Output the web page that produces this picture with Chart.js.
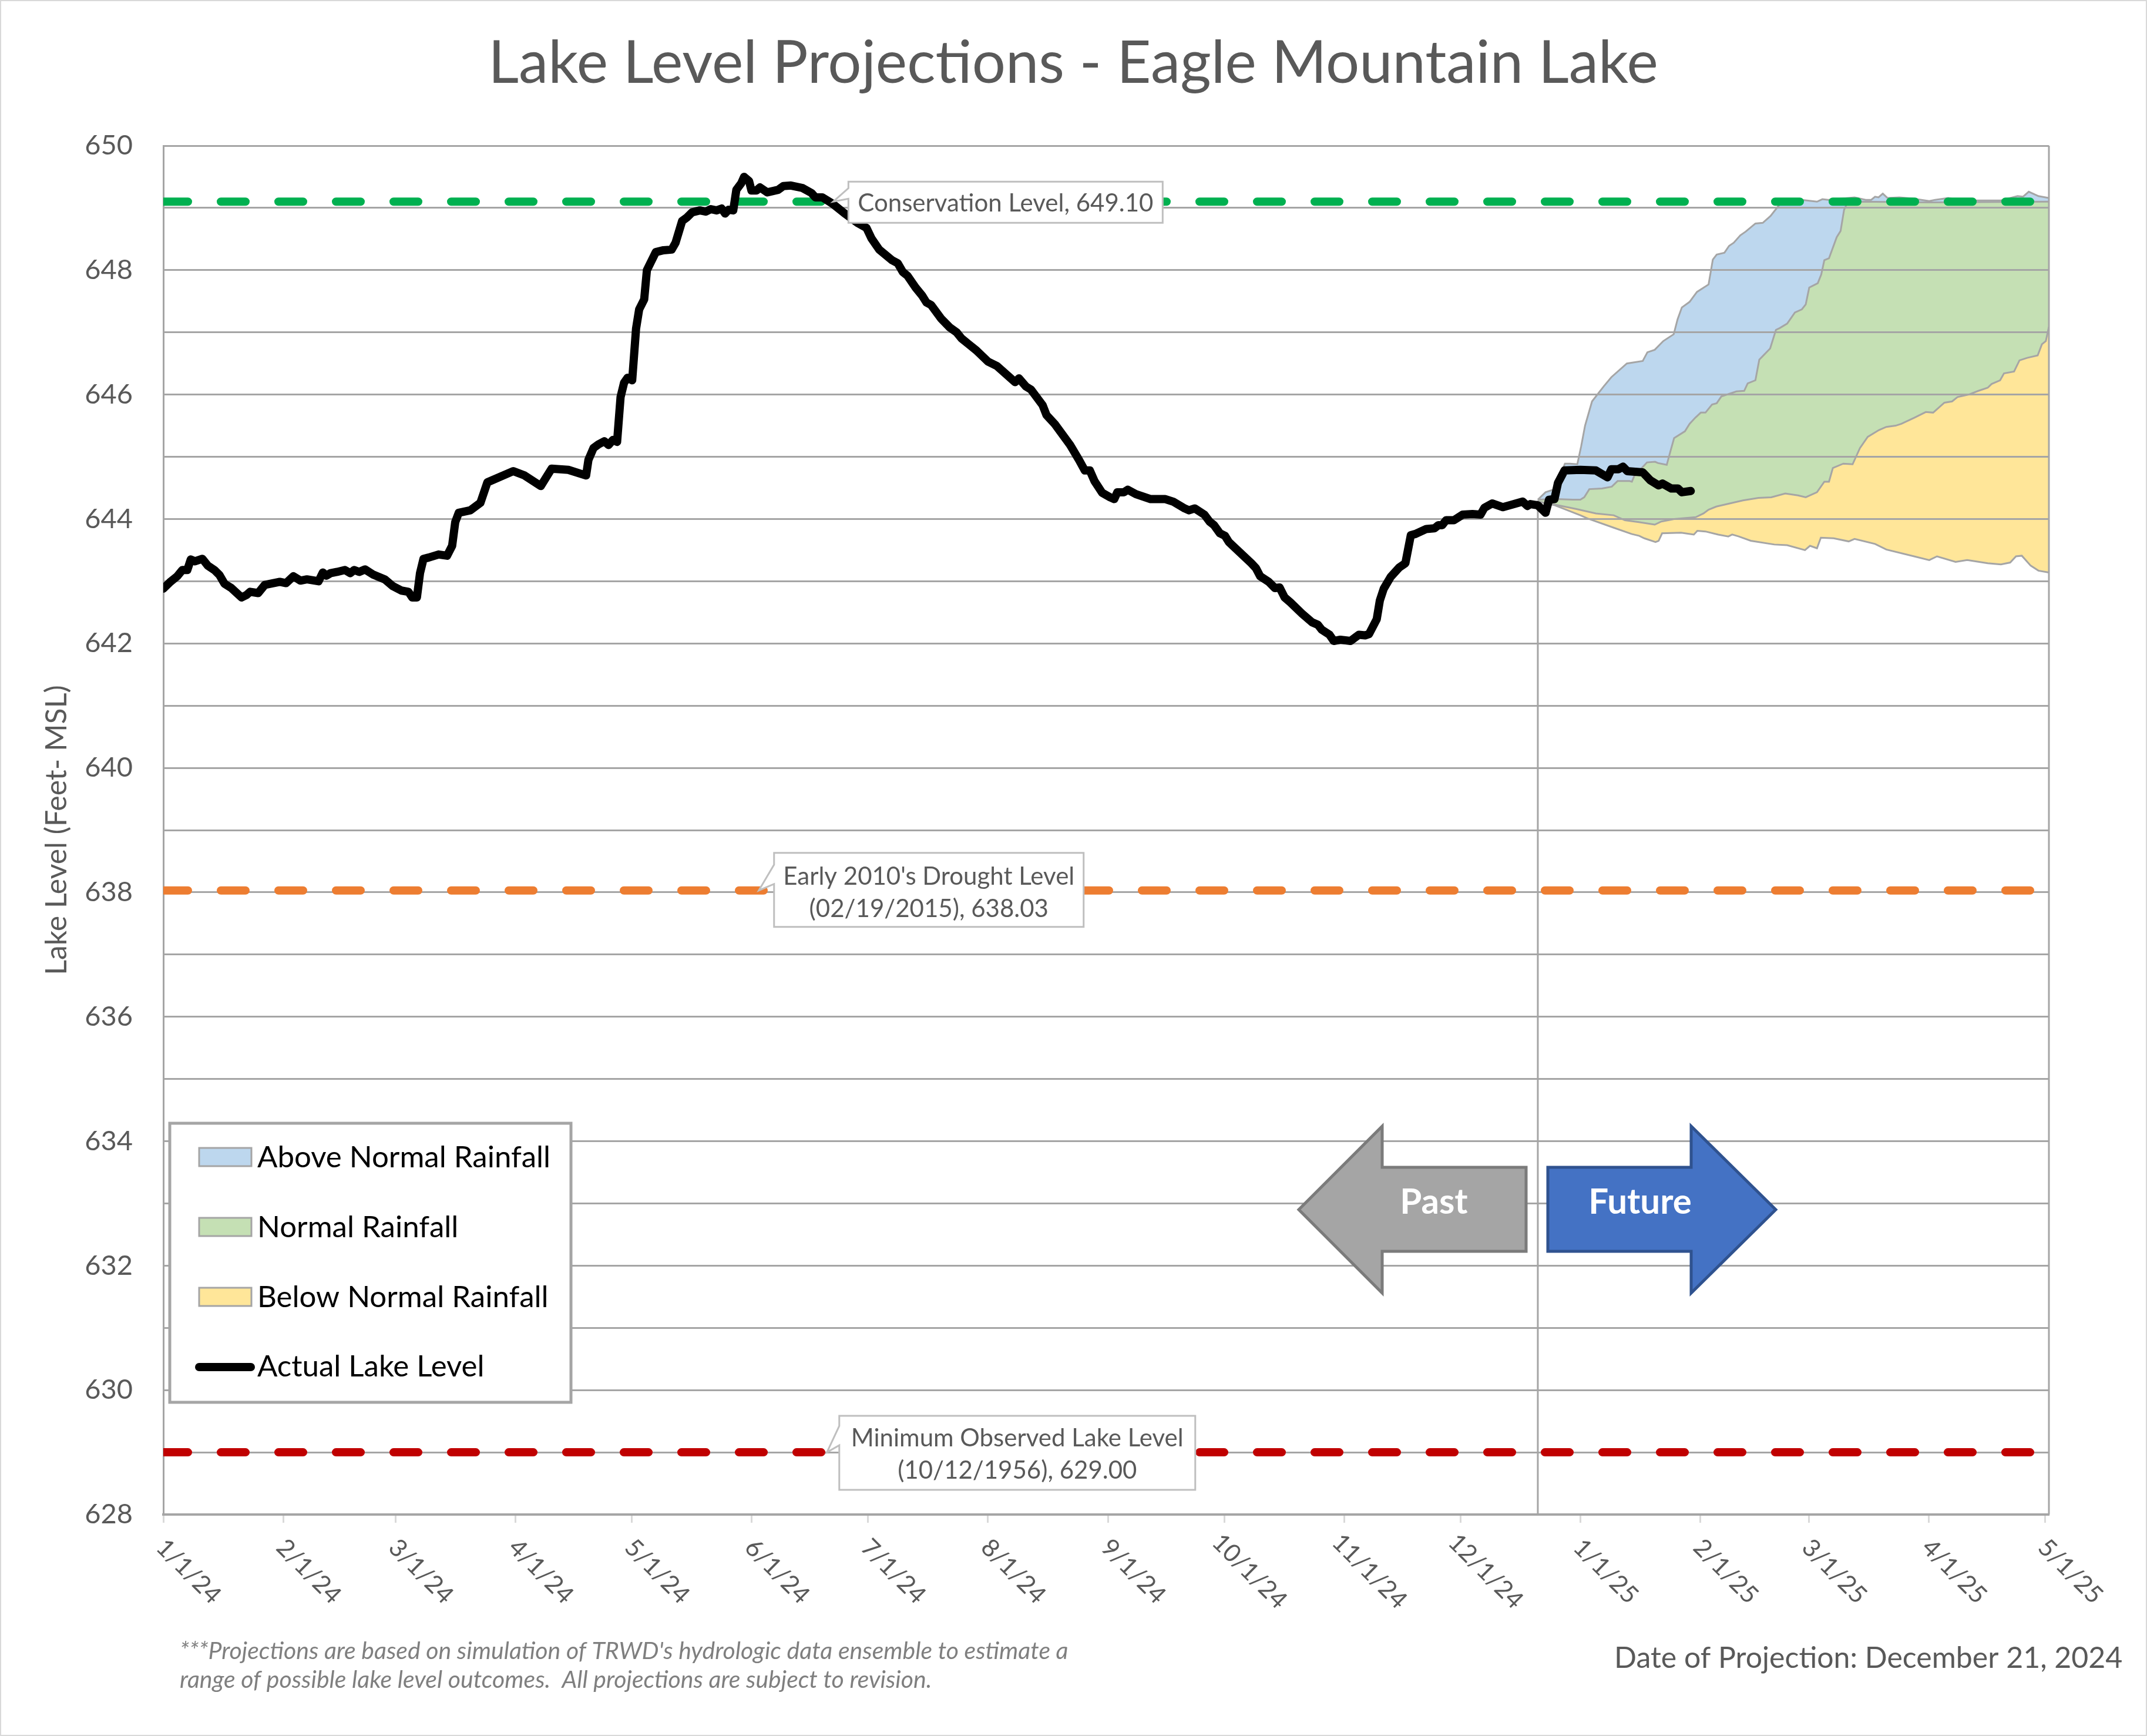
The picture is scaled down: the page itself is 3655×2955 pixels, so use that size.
<!DOCTYPE html>
<html>
<head>
<meta charset="utf-8">
<title>Lake Level Projections - Eagle Mountain Lake</title>
<script src="https://cdn.jsdelivr.net/npm/chart.js@4"></script>
<style>
  html, body { margin: 0; padding: 0; background: #fff; }
  #frame { position: relative; width: 3655px; height: 2955px; }
  #frame::after { content: ''; position: absolute; inset: 0; border: 2px solid #d9d9d9; box-sizing: border-box; pointer-events: none; }
  canvas { display: block; }
</style>
</head>
<body>
<div id="frame"><canvas id="lakeChart" width="3655" height="2955"></canvas></div>
<script>
// x values are days since 1/1/24
const monthDays = [0, 31, 60, 91, 121, 152, 182, 213, 244, 274, 305, 335, 366, 397, 425, 456, 486];
const monthLabels = ['1/1/24', '2/1/24', '3/1/24', '4/1/24', '5/1/24', '6/1/24', '7/1/24', '8/1/24', '9/1/24', '10/1/24', '11/1/24', '12/1/24', '1/1/25', '2/1/25', '3/1/25', '4/1/25', '5/1/25'];
const levelTickLabels = [628, 630, 632, 634, 636, 638, 640, 642, 644, 646, 648, 650];

const actualDays = [0, 1.8, 3.6, 4.9, 6.2, 7.1, 8.2, 10.1, 11.5, 13.2, 14.5, 15.8, 17.6, 20.2, 21.5, 22.4, 24.5, 26.2, 30.1, 31.7, 33.6, 35.4, 37.1, 40.1, 41.2, 42.1, 43.2, 44.9, 46.9, 48.3, 49.3, 50.6, 52.1, 54.1, 57.2, 59.3, 61.5, 63.3, 64.3, 65.5, 66.3, 67.2, 68.5, 71.1, 73.3, 74.6, 75.4, 76.3, 79.3, 81.9,
  83.7, 90.4, 93.3, 97.5, 100.3, 104.6, 109.2,
  109.8, 111.1, 112.4, 113.9, 115, 116.1, 117.2, 118.1, 119, 119.9, 121.1, 122.1, 122.9, 124.2, 124.9, 127.2, 129.2, 131.3, 132.3, 134, 135.3, 136.6, 138.6, 140.1, 141.4, 142.9, 144.2, 145.1, 146, 147.2, 148, 149.3, 150, 151.3, 151.9, 153.2, 154.1, 156, 158.8, 160.1, 162.1, 165.1, 167.4, 168.4, 170.2, 172.8,
  175.8, 179.3, 181.6, 182.9, 184.9, 188.2, 189.7, 191, 192.2, 194.3, 196, 197.1, 198.3, 200.9, 203.1, 204.9, 206.2, 208, 210, 213, 215.3, 220, 221, 222.8, 224.1, 227.1, 228.1, 230.2, 232.2, 234.2, 236.5, 238, 239.3, 240.5,
  242.5, 244.5, 245.6, 246.4, 248.1, 249.1, 251.2, 255, 258.8, 260.8, 263.8, 264.9, 266.4, 268.9, 270.2, 271.4, 272.9, 274.2, 275.2, 276.4, 281, 282.2, 283.3, 285.5, 287.1, 288.3, 289.6, 291.1, 294.1, 296.7, 298.2, 299.2, 301.2, 302.3, 304, 306.6, 308.8, 310.4, 311.4, 313.4, 314.2, 315.2, 317, 319.2, 320.8,
  322.2, 323.4, 326.2, 328.3, 329.3, 330.3, 331.3, 333.3, 335.6, 338.1, 340.2, 341.2, 343.2, 346, 348.3, 351.1, 352.3, 353.1, 355,
  357, 357.9, 359.3, 360.2, 361.9, 366, 370, 373, 374, 375.8, 377, 378.1, 382.1, 384.1, 386.2, 387.2, 389.5, 391.2, 392.2, 394.5];
const actualLevels = [642.88, 642.99, 643.08, 643.18, 643.18, 643.35, 643.32, 643.36, 643.25, 643.18, 643.10, 642.96, 642.89, 642.74, 642.78, 642.83, 642.81, 642.94, 642.99, 642.97, 643.08, 643.01, 643.03, 643.0, 643.14, 643.09, 643.13, 643.15, 643.18, 643.13, 643.18, 643.15, 643.19, 643.11, 643.03, 642.92, 642.85, 642.83, 642.74, 642.74, 643.13, 643.36, 643.38, 643.43, 643.41, 643.57, 643.95, 644.10, 644.14, 644.26,
  644.59, 644.77, 644.70, 644.53, 644.81, 644.79, 644.70,
  644.95, 645.14, 645.2, 645.25, 645.19, 645.27, 645.24, 645.96, 646.19, 646.27, 646.23, 647.06, 647.37, 647.53, 648.0, 648.29, 648.32, 648.33, 648.44, 648.79, 648.85, 648.93, 648.96, 648.94, 648.98, 648.96, 648.99, 648.91, 648.97, 648.96, 649.29, 649.40, 649.50, 649.43, 649.28, 649.28, 649.33, 649.25, 649.29, 649.35, 649.36, 649.32, 649.24, 649.17, 649.17, 649.07,
  648.92, 648.76, 648.68, 648.51, 648.33, 648.16, 648.11, 647.97, 647.91, 647.72, 647.59, 647.48, 647.44, 647.22, 647.08, 647.0, 646.9, 646.81, 646.71, 646.53, 646.46, 646.2, 646.26, 646.13, 646.08, 645.83, 645.67, 645.53, 645.36, 645.19, 644.95, 644.78, 644.78, 644.61,
  644.42, 644.35, 644.32, 644.43, 644.43, 644.47, 644.40, 644.32, 644.32, 644.28, 644.17, 644.14, 644.17, 644.07, 643.96, 643.90, 643.77, 643.73, 643.63, 643.56, 643.29, 643.21, 643.08, 642.99, 642.89, 642.90, 642.74, 642.66, 642.48, 642.34, 642.30, 642.22, 642.14, 642.04, 642.06, 642.04, 642.14, 642.13, 642.15, 642.39, 642.69, 642.88, 643.07, 643.22, 643.29,
  643.74, 643.76, 643.84, 643.85, 643.90, 643.90, 643.98, 643.98, 644.07, 644.08, 644.07, 644.18, 644.25, 644.19, 644.23, 644.28, 644.21, 644.24, 644.22,
  644.10, 644.31, 644.32, 644.58, 644.78, 644.79, 644.78, 644.67, 644.80, 644.80, 644.84, 644.77, 644.75, 644.62, 644.54, 644.57, 644.49, 644.49, 644.43, 644.45];

const aboveDays = [355, 357, 359.4, 362, 363.3, 365.2, 366.2, 367.2, 369, 372, 374, 378, 382.1, 383.3, 385.2, 387.4, 390.1, 391.1, 392.2, 394.2, 396.1, 399.1, 400.2, 401.2, 403.2, 404.4, 405.6, 407.3, 408.7, 411.2, 413.1, 415.1, 417, 418.4, 423.2, 427.1, 428.5, 430, 436.8, 439.7, 441.1, 442.1, 443, 444.1, 445.3, 448.4, 451.8, 456.1, 457.6, 461, 463.9, 474.6, 478.9, 480.3, 481.8, 484.3, 487];
const aboveLevels = [644.31, 644.43, 644.48, 644.89, 644.89, 644.88, 645.17, 645.5, 645.89, 646.13, 646.28, 646.5, 646.54, 646.68, 646.72, 646.86, 646.97, 647.21, 647.40, 647.49, 647.65, 647.77, 648.17, 648.25, 648.28, 648.39, 648.44, 648.56, 648.62, 648.75, 648.76, 648.87, 649.02, 649.13, 649.13, 649.10, 649.14, 649.13, 649.17, 649.13, 649.13, 649.18, 649.17, 649.23, 649.16, 649.17, 649.15, 649.11, 649.13, 649.16, 649.12, 649.12, 649.19, 649.18, 649.26, 649.19, 649.16];

const normalDays = [355, 359.9, 364, 366, 367, 368.3, 371.6, 374.1, 375.6, 378.7, 379.3, 379.9, 383.2, 385.3, 386, 388.3, 389.3, 390.2, 393, 394.2, 395.7, 397.1, 398.3, 400, 401.2, 402.4, 406.3, 408.3, 409.2, 411.2, 412.2, 415, 416.5, 417.5, 419.4, 421.4, 423.2, 424.2, 425.1, 427.3, 428.2, 429, 430.2, 432.2, 433.2, 434.1, 435, 438.7, 456.1, 487];
const normalLevels = [644.31, 644.32, 644.31, 644.31, 644.35, 644.48, 644.49, 644.52, 644.61, 644.61, 644.60, 644.69, 644.91, 644.92, 644.90, 644.87, 645.10, 645.30, 645.41, 645.53, 645.63, 645.71, 645.71, 645.84, 645.86, 645.97, 646.05, 646.06, 646.18, 646.23, 646.56, 646.74, 647.04, 647.07, 647.14, 647.32, 647.37, 647.45, 647.72, 647.79, 647.93, 648.16, 648.19, 648.53, 648.63, 648.97, 649.09, 649.10, 649.09, 649.10];

const belowDays = [355, 359.4, 365, 370, 374.6, 377.5, 381.1, 385.2, 386.9, 390.2, 395.8, 397.8, 399.1, 401.1, 408, 412, 415.3, 418.9, 422.2, 424.2, 427.1, 429, 430.2, 431.2, 433.9, 436.3, 438.2, 440.2, 443.1, 445, 447.4, 448.9, 452.3, 455.2, 457.1, 460, 462, 463.4, 466.3, 468.8, 471.2, 472.2, 474.4, 475.4, 478, 479.4, 481.4, 484.1, 485.2, 486.2, 487];
const belowLevels = [644.28, 644.23, 644.16, 644.09, 644.06, 643.98, 643.95, 643.91, 643.96, 644.0, 644.03, 644.09, 644.15, 644.20, 644.30, 644.34, 644.35, 644.41, 644.38, 644.35, 644.43, 644.60, 644.60, 644.82, 644.89, 644.88, 645.14, 645.32, 645.43, 645.48, 645.50, 645.53, 645.63, 645.72, 645.71, 645.87, 645.89, 645.96, 646.0, 646.06, 646.11, 646.17, 646.23, 646.34, 646.37, 646.55, 646.59, 646.63, 646.81, 646.86, 647.09];

const floorDays = [355, 359.4, 366, 367.8, 374.6, 379.2, 381.2, 382.5, 385.4, 386.2, 387.1, 392, 395.3, 396.2, 398.3, 401.6, 404.2, 405.2, 406.9, 410, 416.1, 419.4, 424, 425.3, 427.1, 428.1, 431.4, 435.3, 436.8, 442.1, 445, 452.8, 456.1, 458.1, 462.9, 465.9, 471.2, 474.6, 477, 478.5, 480, 482.3, 484.3, 487];
const floorLevels = [644.28, 644.22, 644.06, 644.01, 643.86, 643.76, 643.73, 643.69, 643.63, 643.65, 643.77, 643.78, 643.75, 643.81, 643.80, 643.75, 643.72, 643.75, 643.72, 643.65, 643.59, 643.58, 643.50, 643.57, 643.53, 643.70, 643.69, 643.64, 643.68, 643.60, 643.51, 643.39, 643.34, 643.40, 643.31, 643.34, 643.29, 643.27, 643.30, 643.40, 643.41, 643.25, 643.17, 643.14];

// reference levels and the "today" divider
const fullSpanDays = [0, 487];
const conservationLevels = [649.1, 649.1];
const droughtLevels = [638.03, 638.03];
const minimumLevels = [629, 629];
const dividerDays = [355, 355];
const dividerLevels = [628, 644.3];

const legendLabels = ['Above Normal Rainfall', 'Normal Rainfall', 'Below Normal Rainfall', 'Actual Lake Level'];

const colors = {
    grid: '#a5a5a5',
    text: '#595959',
    above: '#bdd7ee',
    normal: '#c5e0b4',
    below: '#ffe699',
    conservation: '#00b050',
    drought: '#ed7d31',
    minimum: '#c00000',
    callout: '#bfbfbf'
};
const fontFamily = "Lato, 'Noto Sans', sans-serif";

function toPoints(days, levels) {
    return days.map((d, i) => ({ x: d, y: levels[i] }));
}

function bandLine(label, days, levels, fillColor) {
    return {
        label: label,
        data: toPoints(days, levels),
        borderColor: colors.grid,
        borderWidth: 3,
        backgroundColor: fillColor,
        fill: fillColor ? '+1' : false,
        pointRadius: 0,
        tension: 0,
        clip: 0
    };
}

function levelLine(label, levels, color) {
    return {
        label: label,
        data: toPoints(fullSpanDays, levels),
        borderColor: color,
        borderWidth: 14,
        borderDash: [42, 56],
        borderCapStyle: 'round',
        pointRadius: 0,
        fill: false,
        clip: 0
    };
}

// Callouts hang off a point on the chart, box offsets are pixels from that point
const callouts = [
    { lines: ['Conservation Level, 649.10'], day: 173, level: 649.1, dx: 26, dy: -34, w: 535, h: 70, baseTop: -23, baseBottom: -5, lineY: [3] },
    { lines: ["Early 2010's Drought Level", '(02/19/2015), 638.03'], day: 153.8, level: 638.03, dx: 26, dy: -64, w: 527, h: 126, baseTop: -44, baseBottom: -11, lineY: [-23, 32] },
    { lines: ['Minimum Observed Lake Level', '(10/12/1956), 629.00'], day: 171.4, level: 629, dx: 21, dy: -62, w: 606, h: 126, baseTop: -45, baseBottom: -12, lineY: [-24, 31] }
];

function drawText(ctx, text, x, y, font, color, align) {
    ctx.font = font;
    ctx.fillStyle = color;
    ctx.textAlign = align || 'left';
    ctx.textBaseline = 'middle';
    ctx.fillText(text, x, y);
}

// Excel draws the x labels sloping downwards, scale ticks only slope the other way
const monthLabelPlugin = {
    id: 'monthLabels',
    afterDraw(chart) {
        const ctx = chart.ctx;
        const xScale = chart.scales.x;
        monthDays.forEach((day, i) => {
            ctx.save();
            ctx.translate(xScale.getPixelForValue(day) + 43, 2675);
            ctx.rotate(Math.PI / 4);
            drawText(ctx, monthLabels[i], 0, 0, '42px ' + fontFamily, colors.text, 'center');
            ctx.restore();
        });
    }
};

const plotFramePlugin = {
    id: 'plotFrame',
    beforeDatasetsDraw(chart) {
        const ctx = chart.ctx;
        const area = chart.chartArea;
        ctx.save();
        ctx.strokeStyle = colors.grid;
        ctx.lineWidth = 3;
        ctx.beginPath();
        ctx.moveTo(area.right, area.top);
        ctx.lineTo(area.right, area.bottom);
        ctx.stroke();
        ctx.restore();
    }
};

function drawCallout(ctx, chart, c) {
    const tipX = chart.scales.x.getPixelForValue(c.day);
    const tipY = chart.scales.y.getPixelForValue(c.level);
    const left = tipX + c.dx;
    const top = tipY + c.dy;
    ctx.save();
    ctx.lineWidth = 3;
    ctx.strokeStyle = colors.callout;
    ctx.fillStyle = '#fff';
    ctx.lineJoin = 'miter';
    ctx.beginPath();
    ctx.moveTo(left, top);
    ctx.lineTo(left + c.w, top);
    ctx.lineTo(left + c.w, top + c.h);
    ctx.lineTo(left, top + c.h);
    ctx.lineTo(left, tipY + c.baseBottom);
    ctx.lineTo(tipX, tipY);
    ctx.lineTo(left, tipY + c.baseTop);
    ctx.closePath();
    ctx.fill();
    ctx.stroke();
    c.lines.forEach((line, i) => {
        drawText(ctx, line, left + c.w / 2, tipY + c.lineY[i], '42px ' + fontFamily, colors.text, 'center');
    });
    ctx.restore();
}

function drawLegend(ctx) {
    const rows = [1969, 2088, 2207, 2327];
    const fills = [colors.above, colors.normal, colors.below];
    ctx.save();
    ctx.fillStyle = '#fff';
    ctx.strokeStyle = colors.grid;
    ctx.lineWidth = 5;
    ctx.fillRect(289, 1912, 683, 475);
    ctx.strokeRect(289, 1912, 683, 475);
    fills.forEach((fill, i) => {
        ctx.fillStyle = fill;
        ctx.lineWidth = 3;
        ctx.fillRect(339, rows[i] - 15, 89, 31);
        ctx.strokeRect(339, rows[i] - 15, 89, 31);
    });
    ctx.strokeStyle = '#000';
    ctx.lineWidth = 14;
    ctx.lineCap = 'round';
    ctx.beginPath();
    ctx.moveTo(339, rows[3]);
    ctx.lineTo(427, rows[3]);
    ctx.stroke();
    legendLabels.forEach((label, i) => {
        drawText(ctx, label, 438, rows[i] + (i === 3 ? 0 : 2), '51px ' + fontFamily, '#000');
    });
    ctx.restore();
}

function drawArrow(ctx, points, fill, stroke, label, labelX) {
    ctx.save();
    ctx.fillStyle = fill;
    ctx.strokeStyle = stroke;
    ctx.lineWidth = 5;
    ctx.lineJoin = 'miter';
    ctx.beginPath();
    points.forEach((p, i) => (i ? ctx.lineTo(p[0], p[1]) : ctx.moveTo(p[0], p[1])));
    ctx.closePath();
    ctx.fill();
    ctx.stroke();
    drawText(ctx, label, labelX, 2047, 'bold 60px ' + fontFamily, '#fff', 'center');
    ctx.restore();
}

const annotationPlugin = {
    id: 'annotations',
    afterDraw(chart) {
        const ctx = chart.ctx;
        drawText(ctx, 'Lake Level Projections - Eagle Mountain Lake', 1827, 108, '101px ' + fontFamily, colors.text, 'center');
        callouts.forEach(c => drawCallout(ctx, chart, c));
        drawLegend(ctx);
        drawArrow(ctx, [[2211, 2059], [2353, 1917], [2353, 1987], [2598, 1987], [2598, 2130], [2353, 2130], [2353, 2201]], '#a5a5a5', '#7b7b7b', 'Past', 2441);
        drawArrow(ctx, [[3023, 2059], [2879, 1917], [2879, 1987], [2635, 1987], [2635, 2130], [2879, 2130], [2879, 2201]], '#4472c4', '#2f528f', 'Future', 2792);
        drawText(ctx, "***Projections are based on simulation of TRWD's hydrologic data ensemble to estimate a", 306, 2811, 'italic 41px ' + fontFamily, '#7f7f7f');
        drawText(ctx, 'range of possible lake level outcomes.  All projections are subject to revision.', 306, 2860, 'italic 41px ' + fontFamily, '#7f7f7f');
        drawText(ctx, 'Date of Projection: December 21, 2024', 2748, 2823, '50px ' + fontFamily, colors.text);
    }
};

new Chart(document.getElementById('lakeChart'), {
    type: 'line',
    data: {
        datasets: [
            { label: 'Actual Lake Level', data: toPoints(actualDays, actualLevels), borderColor: '#000', borderWidth: 14, borderJoinStyle: 'round', borderCapStyle: 'round', pointRadius: 0, tension: 0, fill: false, clip: 0 },
            levelLine('Conservation Level', conservationLevels, colors.conservation),
            levelLine("Early 2010's Drought Level", droughtLevels, colors.drought),
            levelLine('Minimum Observed Lake Level', minimumLevels, colors.minimum),
            bandLine('Above Normal Rainfall', aboveDays, aboveLevels, colors.above),
            bandLine('Normal Rainfall', normalDays, normalLevels, colors.normal),
            bandLine('Below Normal Rainfall', belowDays, belowLevels, colors.below),
            bandLine('Below Normal Floor', floorDays, floorLevels, null),
            { label: 'Projection Date', data: toPoints(dividerDays, dividerLevels), borderColor: colors.grid, borderWidth: 3, pointRadius: 0, fill: false, clip: 0 }
        ]
    },
    plugins: [plotFramePlugin, monthLabelPlugin, annotationPlugin],
    options: {
        responsive: false,
        devicePixelRatio: 1,
        animation: false,
        layout: { padding: { left: 0, top: 248, right: 167, bottom: 0 } },
        plugins: {
            legend: { display: false },
            tooltip: { enabled: false },
            // fills go in before the gridlines so the grid shows through the bands
            filler: { drawTime: 'beforeDraw' }
        },
        scales: {
            x: {
                type: 'linear',
                min: 0,
                max: 487,
                afterBuildTicks: scale => { scale.ticks = monthDays.map(v => ({ value: v })); },
                afterFit: scale => { scale.height = 377; },
                ticks: { display: false, autoSkip: false },
                grid: { drawOnChartArea: false, drawTicks: true, tickLength: 14, tickColor: '#d9d9d9', tickWidth: 3 },
                border: { color: colors.grid, width: 4 }
            },
            y: {
                min: 628,
                max: 650,
                afterFit: scale => { scale.width = 278; },
                ticks: {
                    stepSize: 1,
                    autoSkip: false,
                    color: colors.text,
                    padding: 52,
                    font: { family: fontFamily, size: 47 },
                    callback: value => (levelTickLabels.includes(value) ? String(value) : '')
                },
                grid: { color: colors.grid, lineWidth: 3, drawTicks: false },
                border: { color: colors.grid, width: 3 },
                title: {
                    display: true,
                    text: 'Lake Level (Feet- MSL)',
                    color: colors.text,
                    font: { family: fontFamily, size: 50, weight: 'normal' },
                    padding: { top: 67, bottom: 0 }
                }
            }
        }
    }
});
</script>
</body>
</html>
